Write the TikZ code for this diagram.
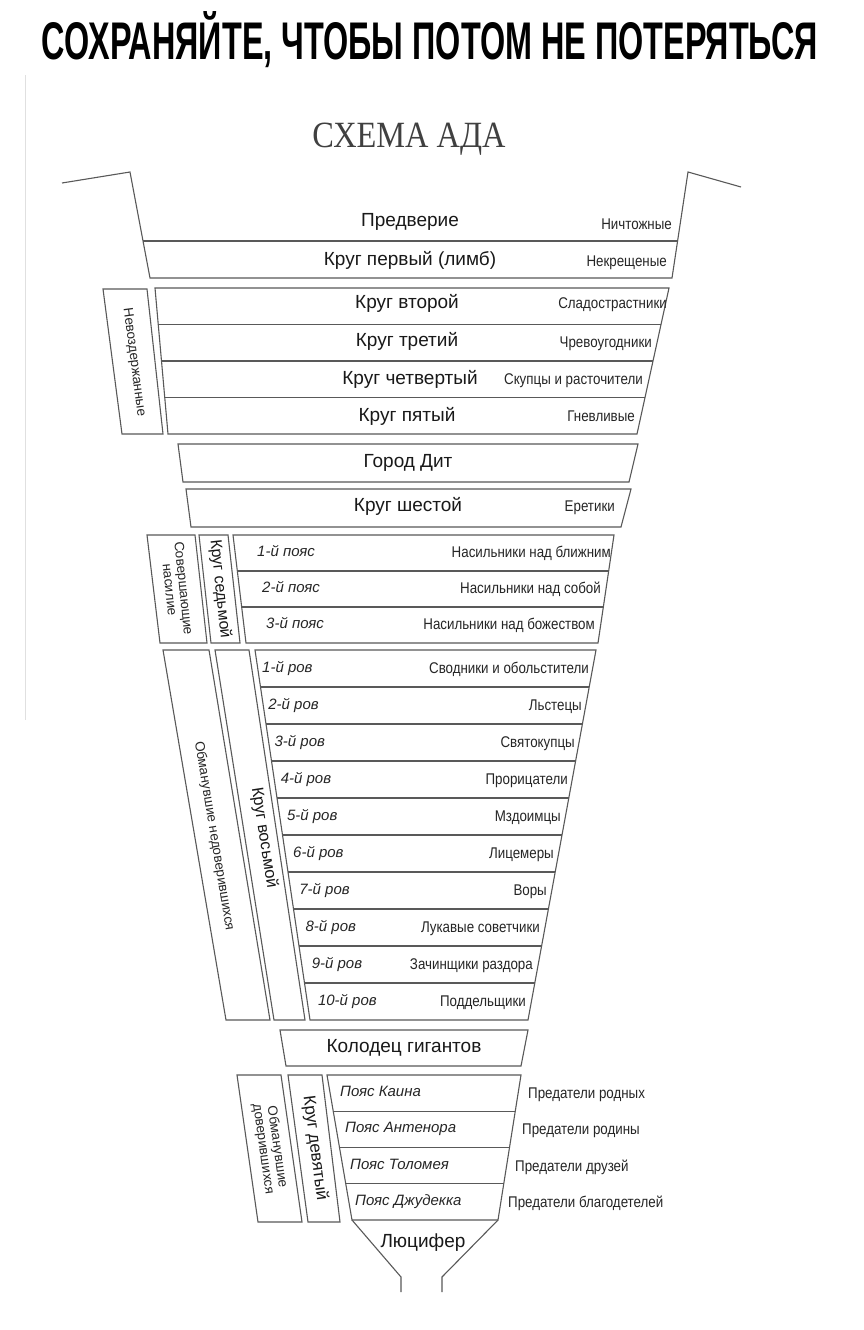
\documentclass[tikz,border=0pt]{standalone}
\usepackage{fontspec}
\usepackage{graphicx}
\setmainfont{Liberation Sans}
\newfontfamily\titlefont{Liberation Serif}
\newfontfamily\notefont[FakeStretch=0.86]{Liberation Sans}
\usetikzlibrary{calc}

\begin{document}
\begin{tikzpicture}[x=1pt,y=-1pt,
  wall/.style={draw=black!65, line width=1.1pt, line join=miter},
  lbl/.style={inner sep=0pt, anchor=mid, font=\fontsize{19}{19}\selectfont, text=black!90},
  note/.style={inner sep=0pt, anchor=mid east, font=\notefont\fontsize{15.5}{15.5}\selectfont, text=black!85},
  rov/.style={inner sep=0pt, anchor=mid west, font=\fontsize{15}{15}\selectfont\itshape, text=black!85},
  side/.style={inner sep=0pt, align=center, font=\fontsize{13.5}{14}\selectfont, text=black!85},
  krug/.style={inner sep=0pt, font=\fontsize{17}{17}\selectfont, text=black!90}]
\useasboundingbox (0,0) rectangle (864,1330);
\fill[white] (0,0) rectangle (864,1330);

\node[anchor=base, inner sep=0pt] (head) at (430,60) {\resizebox{776pt}{\height}{\fontsize{53}{53}\selectfont\bfseries СОХРАНЯЙТЕ, ЧТОБЫ ПОТОМ НЕ ПОТЕРЯТЬСЯ}};
\draw[black!12, line width=0.8pt] (25,75) -- (25,720);
\node[anchor=base, inner sep=0pt, text=black!75] (title) at (409,147) {\resizebox{193pt}{\height}{\titlefont\fontsize{37}{37}\selectfont СХЕМА АДА}};

% vestibule and limbo
\draw[wall] (62,183) -- (130,172) -- (150,278) -- (672,278) -- (688,172) -- (741,187);
\draw[wall] (143,241) -- (678,241);
\node[lbl] (predv) at (410,224) {Предверие};
\node[note] (nicht) at (672,227) {Ничтожные};
\node[lbl] (limb) at (410,263) {Круг первый (лимб)};
\node[note] (nekr) at (667,264) {Некрещеные};

% circles 2-5
\coordinate (b2tl) at (155,288); \coordinate (b2tr) at (669,288);
\coordinate (b2br) at (637,434); \coordinate (b2bl) at (168,434);
\draw[wall] (b2tl) -- (b2tr) -- (b2br) -- (b2bl) -- cycle;
\foreach \t in {0.25,0.5,0.75}
  \draw[wall] ($(b2tl)!\t!(b2bl)$) -- ($(b2tr)!\t!(b2br)$);
\draw[wall] (103,289) -- (147,289) -- (163,434) -- (122,434) -- cycle;
\node[side, rotate=-82.5] (nevozd) at (134,362) {Невоздержанные};
\node[lbl] (k2) at (407,306) {Круг второй};
\node[note] (s2) at (667,306) {Сладострастники};
\node[lbl] (k3) at (407,344) {Круг третий};
\node[note] (s3) at (652,345) {Чревоугодники};
\node[lbl] (k4) at (410,382) {Круг четвертый};
\node[note] (s4) at (643,382) {Скупцы и расточители};
\node[lbl] (k5) at (407,419) {Круг пятый};
\node[note] (s5) at (635,419) {Гневливые};

% city of Dis and sixth circle
\draw[wall] (178,444) -- (638,444) -- (629,482) -- (183,482) -- cycle;
\node[lbl] (dit) at (408,465) {Город Дит};
\draw[wall] (186,489) -- (631,489) -- (621,527) -- (191,527) -- cycle;
\node[lbl] (k6) at (408,509) {Круг шестой};
\node[note] (s6) at (615,509) {Еретики};

% seventh circle
\coordinate (b7tl) at (233,535); \coordinate (b7tr) at (614,535);
\coordinate (b7br) at (598,643); \coordinate (b7bl) at (246,643);
\draw[wall] (b7tl) -- (b7tr) -- (b7br) -- (b7bl) -- cycle;
\foreach \t in {1,2}
  \draw[wall] ($(b7tl)!\t/3!(b7bl)$) -- ($(b7tr)!\t/3!(b7br)$);
\draw[wall] (199,535) -- (228,535) -- (240,643) -- (211,643) -- cycle;
\draw[wall] (147,535) -- (195,535) -- (207,643) -- (160,643) -- cycle;
\node[side, rotate=-84] (sovnas) at (177,589) {Совершающие\\насилие};
\node[krug, rotate=-84, font=\fontsize{16}{16}\selectfont] (k7) at (220,589) {Круг седьмой};
\foreach \txt/\xl/\xr [count=\i] in {Насильники над ближним/257/611,
    Насильники над собой/262/601, Насильники над божеством/266/595} {
  \node[rov] (poyas\i) at (\xl,{554+36*(\i-1)}) {\i-й пояс};
  \node[note] (nas\i) at (\xr,{555+36*(\i-1)}) {\txt};
}

% eighth circle
\coordinate (b8tl) at (255,650); \coordinate (b8tr) at (596,650);
\coordinate (b8br) at (528,1020); \coordinate (b8bl) at (310,1020);
\draw[wall] (b8tl) -- (b8tr) -- (b8br) -- (b8bl) -- cycle;
\foreach \t in {1,...,9}
  \draw[wall] ($(b8tl)!\t/10!(b8bl)$) -- ($(b8tr)!\t/10!(b8br)$);
\draw[wall] (215,650) -- (249,650) -- (305,1020) -- (274,1020) -- cycle;
\draw[wall] (163,650) -- (209,650) -- (270,1020) -- (226,1020) -- cycle;
\node[side, rotate=-80.6] (obmned) at (214,836) {Обманувшие недоверившихся};
\node[krug, rotate=-81.2, font=\fontsize{16.5}{16.5}\selectfont] (k8) at (264,838) {Круг восьмой};
\foreach \txt [count=\i] in {Сводники и обольстители, Льстецы, Святокупцы,
    Прорицатели, Мздоимцы, Лицемеры, Воры, Лукавые советчики,
    Зачинщики раздора, Поддельщики} {
  \node[rov] (rov\i) at ({262+6.2*(\i-1)},{670+37*(\i-1)}) {\i-й ров};
  \node[note] (grekh\i) at ({589-7*(\i-1)},{671+37*(\i-1)}) {\txt};
}

% well of giants
\draw[wall] (280,1030) -- (528,1030) -- (521,1066) -- (286,1066) -- cycle;
\node[lbl] (kolodec) at (404,1050) {Колодец гигантов};

% ninth circle and Lucifer
\coordinate (b9tl) at (327,1075); \coordinate (b9tr) at (521,1075);
\coordinate (b9br) at (498,1220); \coordinate (b9bl) at (352,1220);
\draw[wall] (b9tl) -- (b9tr) -- (b9br) -- (b9bl) -- cycle;
\foreach \t in {0.25,0.5,0.75}
  \draw[wall] ($(b9tl)!\t!(b9bl)$) -- ($(b9tr)!\t!(b9br)$);
\draw[wall] (288,1075) -- (322,1075) -- (340,1222) -- (308,1222) -- cycle;
\draw[wall] (237,1075) -- (281,1075) -- (302,1222) -- (258,1222) -- cycle;
\node[side, rotate=-82] (obmdov) at (270,1148) {Обманувшие\\доверившихся};
\node[krug, rotate=-82.6] (k9) at (315,1148) {Круг девятый};
\foreach \poyas/\txt/\xl/\xr [count=\i] in {Каина/родных/340/528,
    Антенора/родины/345/522, Толомея/друзей/350/515,
    Джудекка/благодетелей/355/508} {
  \node[rov] (p9\i) at (\xl,{1094+36.3*(\i-1)}) {Пояс \poyas};
  \node[note, anchor=mid west] (pred\i) at (\xr,{1096+36.3*(\i-1)}) {Предатели \txt};
}
\draw[wall] (b9bl) -- (401,1277) -- (401,1292);
\draw[wall] (b9br) -- (442,1277) -- (442,1292);
\node[lbl] (lucifer) at (423,1245) {Люцифер};
\end{tikzpicture}
\end{document}
